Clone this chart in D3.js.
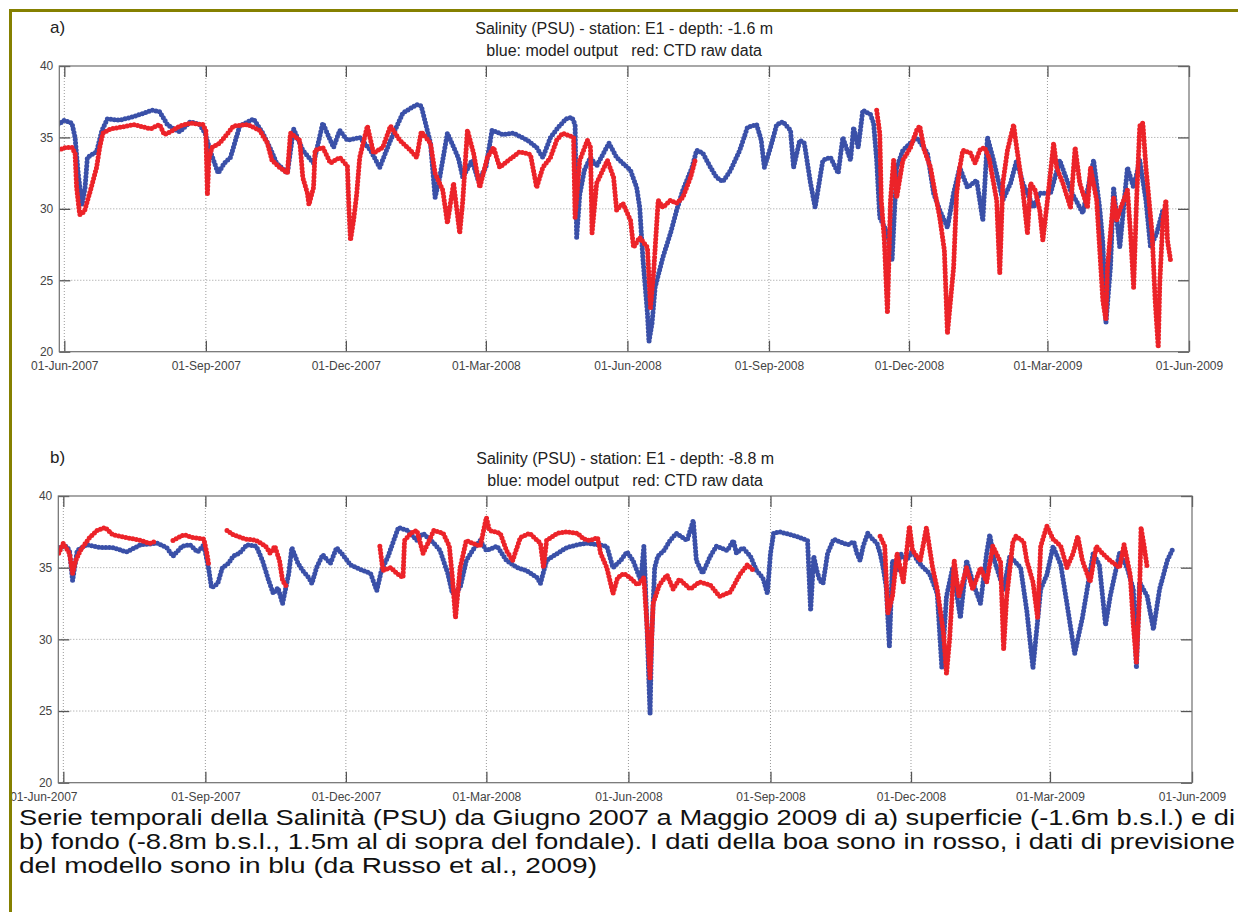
<!DOCTYPE html>
<html lang="it">
<head>
<meta charset="UTF-8">
<title>Salinità - stazione E1</title>
<script src="https://d3js.org/d3.v7.min.js"></script>
<style>
  body { margin: 0; background: #fff; }
  svg { display: block; font-family: "Liberation Sans", Arial, sans-serif; }
</style>
</head>
<body>
<svg id="main" width="1238" height="912"></svg>
<script>
// [days since 01-Jun-2007, salinity PSU]; null value = no data (gap)
const surfModel = [[-4,35.9],[0,36.2],[5,36.0],[7,35.0],[9,32.5],[11.5,30.3],[13.5,31.5],[15,33.6],[18,33.8],[21,34.0],[24.5,35.5],[28,36.3],[36,36.2],[43,36.4],[49,36.6],[57,36.9],[62,36.8],[67,35.9],[71,35.6],[75,35.4],[82,36.1],[88,35.9],[91.5,35.3],[95,34.0],[100,32.5],[104,33.2],[108,33.6],[114,35.8],[123,36.3],[129,35.3],[134,34.2],[138,33.2],[145,32.5],[149,35.6],[155,34.1],[162,33.2],[168,36.0],[175,34.3],[179,35.5],[184,34.8],[192,35.0],[199,34.1],[205,32.9],[212,34.8],[220,36.7],[229,37.3],[232,37.2],[238,34.6],[241,30.8],[244,32.2],[249,35.3],[256,33.6],[259,32.2],[265,33.4],[269,32.0],[274,32.9],[278,35.5],[285,35.2],[292,35.3],[301,34.8],[307,34.3],[311,33.6],[316,35.0],[321,35.7],[326,36.3],[330,36.4],[332,35.9],[333,28.0],[335,31.0],[338,32.7],[342,33.6],[346,33.0],[351,34.0],[354,34.6],[359,33.6],[363,33.2],[368,32.7],[372,31.5],[374,30.1],[376,26.6],[379,22.7],[380,20.7],[382,22.0],[384,24.5],[389,26.6],[394,28.3],[398,29.9],[402,31.3],[408,32.9],[411,34.1],[415,33.9],[420,32.9],[424,32.2],[428,31.9],[433,32.7],[439,34.1],[444,35.7],[450,35.9],[453,34.8],[455,32.9],[459,34.3],[463,35.9],[467,36.1],[472,35.5],[474,32.9],[478,34.8],[481,34.6],[485,31.8],[488,30.1],[493,33.4],[498,33.6],[503,32.5],[506,35.0],[511,33.4],[513,35.7],[516,34.3],[519,36.9],[524,36.6],[526,36.0],[528,33.4],[530,29.4],[535,28.3],[538,26.4],[541,32.9],[545,34.1],[550,34.6],[554,35.0],[561,33.9],[565,31.1],[569,29.9],[574,28.7],[578,31.1],[582,32.9],[587,31.5],[593,32.0],[597,29.2],[600,35.0],[604,33.4],[610,30.6],[615,31.8],[619,33.4],[623,31.8],[630,30.1],[634,31.1],[641,31.1],[647,33.4],[654,31.3],[662,29.7],[669,33.4],[673,30.0],[675,27.6],[677,22.0],[680,26.0],[682,31.5],[686,27.3],[691,32.9],[695,31.5],[699,33.4],[703,30.6],[706,27.3],[710,28.3],[714,29.9],[717,29.9]];

const surfCTD = [[-4,34.1],[1,34.3],[5,34.3],[7,33.9],[8,31.5],[10,29.6],[13,29.8],[17,31.3],[21,32.9],[23,34.3],[25,35.3],[30,35.6],[36,35.7],[45,35.9],[56,35.6],[62,35.9],[65,35.2],[69,35.4],[75,35.8],[82,36.0],[90,35.9],[92,35.5],[93,31.0],[94,33.5],[96,34.3],[101,34.6],[110,35.8],[119,35.9],[127,35.5],[132,34.6],[135,33.4],[140,32.9],[145,32.5],[147,35.3],[153,34.8],[155,32.2],[158,31.1],[159,30.3],[162,31.5],[163,34.1],[168,34.3],[173,33.2],[179,33.6],[184,33.0],[185,30.0],[186,27.8],[188,29.2],[190,31.0],[192,33.6],[197,35.8],[201,33.9],[207,34.3],[212,35.8],[218,34.8],[225,34.1],[229,33.6],[232,35.4],[238,34.6],[241,32.5],[246,31.3],[249,29.0],[253,31.8],[257,28.3],[259,30.6],[262,35.5],[266,33.9],[270,31.5],[275,33.6],[279,34.3],[283,32.9],[290,33.5],[296,34.0],[303,33.8],[307,31.5],[311,32.9],[316,33.6],[320,34.8],[324,35.3],[331,35.0],[332,29.4],[335,33.4],[340,34.8],[342,34.3],[343,28.3],[346,31.8],[353,33.4],[357,32.2],[359,29.9],[363,30.4],[368,29.2],[370,27.3],[374,28.0],[379,27.3],[381,23.1],[383,25.5],[386,30.6],[389,30.1],[394,30.6],[398,30.4],[402,30.8],[407,32.2],[410,33.4],[411,null],[527,null],[528,36.9],[530,35.3],[531,30.6],[533,27.8],[535,22.7],[537,30.6],[539,33.4],[541,30.8],[545,33.4],[550,34.3],[554,35.5],[556,35.8],[559,34.1],[563,32.9],[566,31.1],[569,29.4],[572,27.1],[574,21.3],[576,23.6],[578,25.9],[580,31.1],[582,32.9],[584,34.1],[589,33.9],[592,33.2],[595,34.1],[598,34.3],[601,33.6],[606,30.6],[608,25.5],[610,31.8],[613,34.1],[617,35.9],[619,34.3],[623,31.3],[626,28.3],[628,31.8],[631,31.3],[634,29.9],[636,27.8],[639,30.6],[643,34.6],[645,32.9],[649,31.8],[654,30.1],[657,34.3],[660,31.8],[665,30.1],[667,32.9],[671,30.6],[673,27.1],[675,23.6],[677,22.2],[678,25.9],[682,30.8],[684,29.2],[686,29.9],[691,31.3],[693,28.3],[695,24.5],[697,30.8],[699,35.8],[701,36.0],[703,32.9],[705,30.6],[707,28.3],[709,23.6],[711,20.3],[712,24.8],[714,29.2],[716,30.6],[717,27.8],[719,26.4]];

const bottomModel = [[-3,36.4],[2,36.5],[4,36.2],[6,34.1],[9,36.2],[15,36.6],[24,36.4],[32,36.4],[41,36.1],[50,36.6],[61,36.7],[67,36.4],[71,35.8],[77,36.5],[82,36.6],[87,36.1],[91,36.6],[94,35.0],[96,33.6],[100,33.9],[103,35.0],[107,35.3],[110,35.8],[114,36.0],[119,36.6],[125,36.5],[129,35.5],[133,34.1],[136,33.2],[139,33.6],[142,32.5],[146,34.6],[148,36.4],[152,35.3],[155,34.8],[159,34.3],[161,33.9],[164,35.0],[168,35.9],[173,35.3],[177,36.4],[181,35.9],[186,35.2],[190,35.0],[194,34.8],[199,34.6],[203,33.4],[206,34.8],[210,35.7],[214,36.9],[217,37.8],[223,37.6],[229,36.9],[233,37.4],[240,36.7],[244,36.2],[249,34.6],[252,33.2],[257,33.6],[261,35.5],[265,36.2],[270,36.9],[274,36.2],[281,36.5],[287,35.5],[294,35.0],[300,34.8],[307,34.3],[309,33.9],[313,35.5],[320,36.0],[326,36.4],[333,36.6],[339,36.7],[346,36.6],[352,36.5],[356,35.0],[361,35.5],[365,36.1],[369,35.5],[374,34.1],[376,36.5],[378,31.0],[380,24.8],[381,30.0],[383,35.0],[385,35.8],[389,36.2],[393,36.9],[397,37.4],[404,36.9],[408,38.3],[410,35.5],[414,34.6],[419,35.8],[423,36.5],[430,36.2],[434,36.9],[436,36.0],[440,36.4],[445,35.8],[449,34.8],[453,34.3],[456,33.2],[458,36.0],[460,37.4],[464,37.5],[471,37.3],[477,37.1],[482,36.9],[484,32.0],[486,35.8],[488,34.8],[490,34.1],[492,33.9],[495,36.0],[499,37.0],[503,36.8],[508,36.6],[512,36.8],[514,36.0],[516,35.5],[518,36.5],[521,37.4],[524,37.0],[527,36.7],[529,36.0],[531,35.0],[533,33.6],[535,29.5],[537,35.5],[540,34.8],[542,36.0],[546,35.5],[550,36.2],[553,35.5],[557,35.0],[561,34.6],[566,33.2],[569,28.0],[572,33.0],[576,35.0],[581,31.5],[585,35.5],[589,34.0],[594,32.5],[598,36.0],[600,37.3],[603,35.5],[609,33.5],[613,35.8],[620,35.0],[624,32.0],[628,28.0],[633,33.5],[637,34.5],[641,36.5],[646,35.2],[650,32.5],[655,29.0],[660,31.5],[667,36.0],[671,35.2],[675,31.0],[678,33.0],[684,36.0],[689,35.0],[693,33.5],[695,28.0],[697,34.0],[702,33.0],[706,30.7],[710,33.5],[715,35.5],[719,36.4]];

const bottomCTD = [[-3,36.0],[0,36.7],[4,36.0],[6,34.6],[8,35.5],[11,36.2],[17,37.1],[22,37.6],[27,37.8],[32,37.3],[41,37.1],[50,36.9],[56,36.7],[59,36.8],[60,null],[70,null],[71,36.9],[78,37.3],[84,37.1],[91,37.0],[93,36.0],[94,35.3],[95,null],[105,null],[106,37.6],[110,37.3],[118,37.0],[125,36.9],[131,36.5],[134,36.0],[137,36.5],[140,35.5],[142,34.1],[145,33.6],[146,null],[204,null],[205,36.5],[207,34.8],[212,35.0],[216,34.6],[220,34.3],[221,36.9],[225,37.4],[229,37.6],[233,36.0],[240,37.6],[246,37.4],[250,36.5],[252,34.3],[254,31.5],[257,35.0],[261,36.9],[265,36.7],[270,36.5],[274,38.5],[276,37.6],[283,37.4],[287,36.2],[291,35.5],[296,37.1],[302,37.4],[309,36.7],[311,35.0],[313,36.9],[320,37.4],[326,37.5],[333,37.4],[337,37.0],[341,36.9],[346,37.1],[348,36.0],[352,35.0],[354,34.1],[356,33.2],[359,34.3],[363,34.6],[367,34.3],[372,33.8],[376,34.3],[378,31.0],[380,27.3],[382,32.5],[386,33.8],[391,34.5],[395,33.5],[399,34.2],[406,33.5],[412,34.0],[419,33.8],[425,33.0],[432,33.3],[438,34.5],[443,35.2],[447,34.8],[448,null],[528,null],[529,37.2],[532,36.5],[534,31.8],[537,33.0],[540,36.0],[544,34.0],[548,37.9],[550,36.2],[555,35.5],[559,37.8],[563,35.0],[566,33.5],[570,30.5],[572,27.6],[574,30.0],[577,35.5],[580,33.0],[585,35.0],[589,33.5],[594,35.0],[598,34.0],[602,36.5],[607,35.4],[609,29.3],[611,33.0],[615,36.8],[617,37.2],[622,36.8],[624,35.5],[628,34.0],[631,31.5],[633,36.5],[637,37.9],[641,37.0],[646,36.5],[650,35.0],[654,36.0],[657,37.2],[660,35.5],[665,34.0],[669,36.5],[673,36.0],[678,35.5],[684,35.0],[687,36.6],[691,34.5],[693,31.0],[695,28.4],[697,33.0],[698,37.8],[700,36.5],[702,35.0]];

const yTicks = [20, 25, 30, 35, 40];
const xTickDays = [0, 92, 183, 274, 366, 458, 549, 639, 731]; // 1st of Jun/Sep/Dec/Mar
const titleLine2 = "blue: model output   red: CTD raw data";
const captionLines = [
  "Serie temporali della Salinità (PSU) da Giugno 2007 a Maggio 2009  di a) superficie (-1.6m b.s.l.) e di",
  "b) fondo (-8.8m b.s.l., 1.5m al di sopra del fondale). I dati della boa sono in rosso, i dati di previsione",
  "del modello sono in blu (da Russo et al., 2009)"
];

const panels = [
  { tag: "a)", title: "Salinity (PSU) - station: E1 - depth: -1.6 m", model: surfModel, ctd: surfCTD,
    left: 59.3, right: 1189, top: 66, bottom: 351.7, firstLabelShift: 0 },
  { tag: "b)", title: "Salinity (PSU) - station: E1 - depth: -8.8 m", model: bottomModel, ctd: bottomCTD,
    left: 58.3, right: 1192, top: 496, bottom: 782.7, firstLabelShift: -20 }
];

const BLUE = "#3a50a8", RED = "#ec2329";
const t0 = Date.UTC(2007, 5, 1);
const day = d => new Date(t0 + d * 864e5);
const fmt = d3.utcFormat("%d-%b-%Y");
const FONT = "'Liberation Sans', Arial, sans-serif";

const svg = d3.select("#main");
svg.append("rect").attr("width", 1238).attr("height", 912).attr("fill", "#fff");

panels.forEach((p, i) => {
  const x = d3.scaleUtc().domain([day(-3.25), day(731)]).range([p.left, p.right]);
  const y = d3.scaleLinear().domain([20, 40]).range([p.bottom, p.top]);
  const g = svg.append("g");
  const xt = xTickDays.map(day);

  g.append("clipPath").attr("id", "clip" + i)
    .append("rect").attr("x", p.left).attr("y", p.top - 2)
    .attr("width", p.right - p.left).attr("height", p.bottom - p.top + 4);

  // dotted grid
  g.selectAll(".vg").data(xt.slice(0, -1)).join("line")
    .attr("x1", d => x(d)).attr("x2", d => x(d))
    .attr("y1", p.top).attr("y2", p.bottom)
    .attr("stroke", "#9a9a9a").attr("stroke-dasharray", "1 2");
  g.selectAll(".hg").data(yTicks.slice(1, -1)).join("line")
    .attr("x1", p.left).attr("x2", p.right)
    .attr("y1", d => y(d)).attr("y2", d => y(d))
    .attr("stroke", "#9a9a9a").attr("stroke-dasharray", "1 2");

  // series drawn as a string of dots
  const line = d3.line()
    .defined(d => d[1] != null)
    .x(d => x(day(d[0])))
    .y(d => y(d[1]));
  [[p.model, BLUE], [p.ctd, RED]].forEach(([data, col]) => {
    g.append("path").datum(data)
      .attr("clip-path", `url(#clip${i})`)
      .attr("d", line)
      .attr("fill", "none")
      .attr("stroke", col)
      .attr("stroke-width", 5)
      .attr("stroke-linecap", "round")
      .attr("stroke-linejoin", "round")
      .attr("stroke-dasharray", "0 3.6");
  });

  // axes (MATLAB style: inward ticks on all four sides)
  const styleAxis = a => {
    a.select(".domain").remove();
    a.attr("font-family", FONT).attr("font-size", 12);
    a.selectAll(".tick line").attr("stroke", "#555").attr("stroke-width", 1.3);
    a.selectAll("text").attr("fill", "#444");
  };
  g.append("g").attr("transform", `translate(0,${p.bottom})`)
    .call(d3.axisBottom(x).tickValues(xt).tickSize(-11).tickPadding(10).tickFormat(fmt))
    .call(styleAxis)
    .call(a => a.select(".tick text").attr("dx", p.firstLabelShift));
  g.append("g").attr("transform", `translate(0,${p.top})`)
    .call(d3.axisTop(x).tickValues(xt).tickSize(-11).tickFormat(""))
    .call(styleAxis);
  g.append("g").attr("transform", `translate(${p.left},0)`)
    .call(d3.axisLeft(y).tickValues(yTicks).tickSize(-11).tickPadding(6))
    .call(styleAxis);
  g.append("g").attr("transform", `translate(${p.right},0)`)
    .call(d3.axisRight(y).tickValues(yTicks).tickSize(-11).tickFormat(""))
    .call(styleAxis);

  g.append("rect").attr("x", p.left).attr("y", p.top)
    .attr("width", p.right - p.left).attr("height", p.bottom - p.top)
    .attr("fill", "none").attr("stroke", "#6e6e6e").attr("stroke-width", 1.2);

  const cx = (p.left + p.right) / 2;
  g.append("text").attr("x", cx).attr("y", p.top - 32).attr("text-anchor", "middle")
    .attr("font-size", 16).attr("fill", "#222").text(p.title);
  g.append("text").attr("x", cx).attr("y", p.top - 10).attr("text-anchor", "middle")
    .attr("font-size", 16).attr("fill", "#222").style("white-space", "pre").text(titleLine2);
  g.append("text").attr("x", 50).attr("y", p.top - 33)
    .attr("font-size", 17).attr("fill", "#222").text(p.tag);
});

// olive slide frame (drawn last: it covers the clipped first label of panel b)
svg.append("rect").attr("x", 0).attr("y", 0).attr("width", 9).attr("height", 912).attr("fill", "#fff");
svg.append("line").attr("x1", 9).attr("x2", 1238).attr("y1", 10.5).attr("y2", 10.5)
  .attr("stroke", "#858000").attr("stroke-width", 3);
svg.append("line").attr("x1", 10.5).attr("x2", 10.5).attr("y1", 9).attr("y2", 912)
  .attr("stroke", "#858000").attr("stroke-width", 3);

// caption (justified lines)
svg.append("g").selectAll("text").data(captionLines).join("text")
  .attr("x", 19)
  .attr("y", (d, i) => 825 + i * 24)
  .attr("font-size", 22)
  .attr("fill", "#111")
  .attr("textLength", (d, i) => i < 2 ? 1216 : 578)
  .attr("lengthAdjust", "spacingAndGlyphs")
  .text(d => d);
</script>
</body>
</html>
